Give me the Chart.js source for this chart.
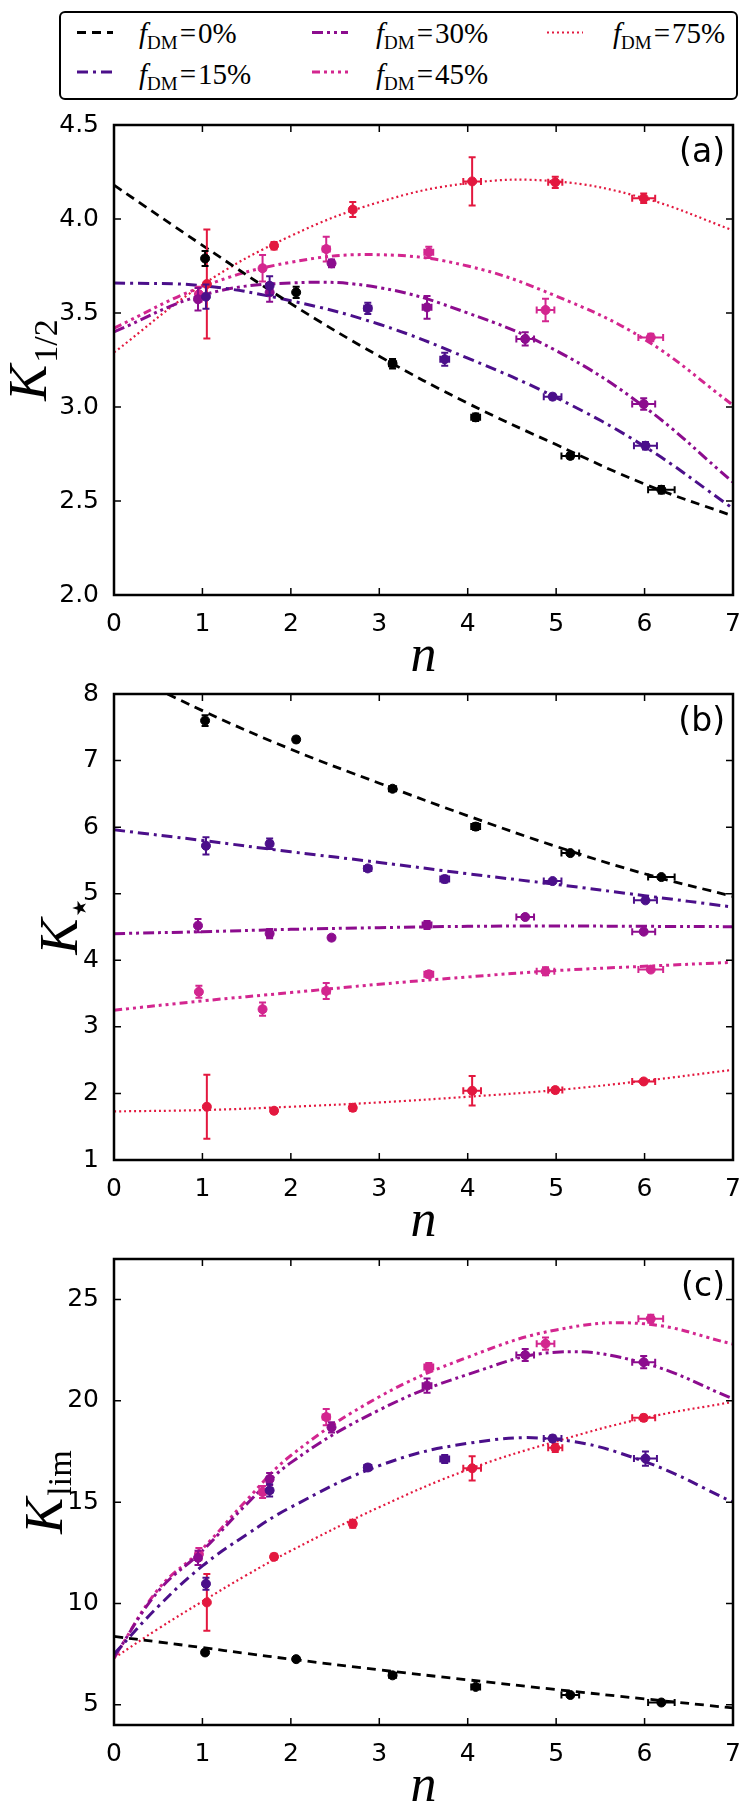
<!DOCTYPE html>
<html>
<head>
<meta charset="utf-8">
<script src="https://cdn.jsdelivr.net/npm/chart.js@4.4.1/dist/chart.umd.min.js"></script>
<style>
  body { margin: 0; background: #fff; }
  #page { position: relative; width: 750px; height: 1817px; overflow: hidden; }
  canvas { position: absolute; left: 0; }
  #legendBox { position: absolute; left: 59px; top: 11px; width: 675px; height: 85px;
    border: 2px solid #000; border-radius: 6px; }
  .lgText { position: absolute; font: 29px "Liberation Serif"; line-height: 29px; white-space: nowrap; color: #000; }
  .lgText sub { font-size: 19px; vertical-align: baseline; position: relative; top: 6px; }
  .lgText .eq { margin: 0 2px; }
</style>
</head>
<body>
<div id="page">
  <div id="legendBox"></div>
  <svg id="legendLines" width="750" height="110" style="position:absolute;left:0;top:0"></svg>
  <div id="legendText"></div>
  <canvas id="cA" width="750" height="572" style="top:100px"></canvas>
  <canvas id="cB" width="750" height="565" style="top:672px"></canvas>
  <canvas id="cC" width="750" height="580" style="top:1237px"></canvas>
</div>
<script>
/* series: dark matter fraction */
const seriesLabels = ['0%', '15%', '30%', '45%', '75%'];
const seriesColors = ['#000000', '#4b0f8a', '#8c0c8e', '#d3268f', '#e3183f'];
const seriesDashes = [[9, 6], [11, 5, 3, 5], [11, 4, 3, 4, 3, 4], [8, 4, 3, 4, 3, 4, 3, 4], [2, 3]];
const seriesWidths = [2.8, 3, 3, 3, 2.2];

// n of each run (same runs in all three panels) and its error
const n0  = [1.03, 2.06, 3.15, 4.09, 5.16, 6.19];
const n15 = [1.04, 1.76, 2.87, 3.74, 4.96, 6.01];
const n30 = [0.95, 1.76, 2.46, 3.54, 4.65, 5.99];
const n45 = [0.96, 1.68, 2.40, 3.56, 4.88, 6.07];
const n75 = [1.05, 1.81, 2.70, 4.05, 4.99, 5.99];
const nErr0  = [0.02, 0.02, 0.04, 0.05, 0.10, 0.15];
const nErr15 = [0.02, 0.03, 0.04, 0.05, 0.10, 0.13];
const nErr30 = [0.02, 0.03, 0.03, 0.05, 0.10, 0.13];
const nErr45 = [0.02, 0.03, 0.04, 0.05, 0.10, 0.14];
const nErr75 = [0.02, 0.03, 0.03, 0.10, 0.08, 0.13];

// panel (a) K_1/2
const kHalf0  = [3.79, 3.61, 3.23, 2.945, 2.74, 2.56];
const kHalf15 = [3.587, 3.645, 3.525, 3.254, 3.055, 2.794];
const kHalf30 = [3.573, 3.61, 3.764, 3.53, 3.362, 3.016];
const kHalf45 = [3.60, 3.738, 3.84, 3.823, 3.516, 3.37];
const kHalf75 = [3.654, 3.858, 4.05, 4.20, 4.195, 4.11];
const kHalfErr0  = [0.04, 0.03, 0.025, 0.02, 0.015, 0.02];
const kHalfErr15 = [0.065, 0.05, 0.03, 0.035, 0.015, 0.02];
const kHalfErr30 = [0.06, 0.05, 0.02, 0.06, 0.035, 0.03];
const kHalfErr45 = [0.04, 0.07, 0.066, 0.03, 0.06, 0.02];
const kHalfErr75 = [0.29, 0.02, 0.04, 0.128, 0.03, 0.025];

// panel (b) K_star
const kStar0  = [7.60, 7.317, 6.577, 6.008, 5.61, 5.25];
const kStar15 = [5.72, 5.75, 5.38, 5.22, 5.19, 4.90];
const kStar30 = [4.52, 4.40, 4.34, 4.53, 4.65, 4.43];
const kStar45 = [3.526, 3.265, 3.54, 3.79, 3.834, 3.86];
const kStar75 = [1.80, 1.74, 1.785, 2.04, 2.05, 2.18];
const kStarErr0  = [0.08, 0.04, 0.03, 0.05, 0.03, 0.03];
const kStarErr15 = [0.13, 0.08, 0.03, 0.05, 0.03, 0.03];
const kStarErr30 = [0.10, 0.07, 0.03, 0.06, 0.03, 0.03];
const kStarErr45 = [0.09, 0.10, 0.12, 0.05, 0.06, 0.03];
const kStarErr75 = [0.48, 0.03, 0.05, 0.22, 0.04, 0.03];

// panel (c) K_lim
const kLim0  = [7.58, 7.25, 6.45, 5.88, 5.48, 5.11];
const kLim15 = [10.97, 15.58, 16.71, 17.13, 18.14, 17.15];
const kLim30 = [12.25, 16.14, 18.69, 20.75, 22.26, 21.91];
const kLim45 = [12.43, 15.5, 19.2, 21.67, 22.82, 24.05];
const kLim75 = [10.05, 12.30, 13.93, 16.67, 17.68, 19.16];
const kLimErr0  = [0.10, 0.08, 0.08, 0.10, 0.07, 0.08];
const kLimErr15 = [0.30, 0.30, 0.15, 0.20, 0.15, 0.35];
const kLimErr30 = [0.35, 0.30, 0.25, 0.35, 0.30, 0.30];
const kLimErr45 = [0.30, 0.30, 0.40, 0.20, 0.30, 0.20];
const kLimErr75 = [1.40, 0.15, 0.20, 0.60, 0.20, 0.15];

// fitted curves
const fitN    = [0, 1, 2, 3, 4, 5, 6, 7];
const fitNLim = [0, 0.5, 1, 1.5, 2, 3, 4, 5, 6, 7];
const fitHalf0  = [4.18, 3.86, 3.55, 3.27, 3.02, 2.80, 2.59, 2.42];
const fitHalf15 = [3.66, 3.645, 3.565, 3.44, 3.26, 3.05, 2.79, 2.46];
const fitHalf30 = [3.40, 3.595, 3.66, 3.635, 3.50, 3.30, 3.00, 2.60];
const fitHalf45 = [3.42, 3.64, 3.77, 3.81, 3.75, 3.59, 3.36, 3.01];
const fitHalf75 = [3.29, 3.65, 3.91, 4.09, 4.19, 4.20, 4.11, 3.94];
const fitStar0  = [8.40, 7.75, 7.17, 6.66, 6.17, 5.71, 5.30, 4.96];
const fitStar15 = [5.96, 5.80, 5.63, 5.47, 5.30, 5.14, 4.97, 4.80];
const fitStar30 = [4.40, 4.43, 4.465, 4.49, 4.51, 4.515, 4.51, 4.505];
const fitStar45 = [3.25, 3.39, 3.515, 3.64, 3.75, 3.845, 3.91, 3.97];
const fitStar75 = [1.73, 1.75, 1.80, 1.865, 1.95, 2.05, 2.19, 2.355];
const fitLim0  = [8.37, 8.10, 7.82, 7.53, 7.25, 6.72, 6.23, 5.75, 5.29, 4.84];
const fitLim15 = [7.5, 9.85, 11.85, 13.4, 14.75, 16.8, 17.9, 18.1, 17.0, 15.0];
const fitLim30 = [7.35, 10.6, 12.6, 14.9, 16.95, 19.55, 21.3, 22.4, 21.85, 20.1];
const fitLim45 = [7.3, 10.7, 12.7, 15.1, 17.3, 20.2, 22.15, 23.5, 23.8, 22.8];
const fitLim75 = [7.3, 8.75, 10.1, 11.4, 12.6, 14.75, 16.6, 18.0, 19.15, 19.95];

// ticks
const xTicks  = [0, 1, 2, 3, 4, 5, 6, 7];
const yTicksA = [2.0, 2.5, 3.0, 3.5, 4.0, 4.5];
const yTicksB = [1, 2, 3, 4, 5, 6, 7, 8];
const yTicksC = [5, 10, 15, 20, 25];

const nPts = [n0, n15, n30, n45, n75];
const nErrs = [nErr0, nErr15, nErr30, nErr45, nErr75];

/* legend (html, so the subscript is real text) */
const lgLines = document.getElementById('legendLines');
const lgText = document.getElementById('legendText');
seriesLabels.forEach((lab, s) => {
  const col = Math.floor(s / 2), row = s % 2;
  const lx = [77, 312, 547][col], tx = [139, 376, 613][col];
  const ly = [32.5, 72][row], base = [43, 84][row];
  const ln = document.createElementNS('http://www.w3.org/2000/svg', 'line');
  ln.setAttribute('x1', lx); ln.setAttribute('x2', lx + 36);
  ln.setAttribute('y1', ly); ln.setAttribute('y2', ly);
  ln.setAttribute('stroke', seriesColors[s]);
  ln.setAttribute('stroke-width', s === 4 ? 2.2 : 3.2);
  ln.setAttribute('stroke-dasharray', seriesDashes[s].join(' '));
  lgLines.appendChild(ln);
  const t = document.createElement('div');
  t.className = 'lgText';
  t.style.left = tx + 'px';
  t.style.top = (base - 24) + 'px';
  t.innerHTML = '<i>f</i><sub>DM</sub><span class="eq">=</span>' + lab;
  lgText.appendChild(t);
});

/* error bars, frame, inward ticks and labels */
const panelDeco = {
  id: 'panelDeco',
  beforeDatasetDraw(chart, args) {
    const ds = chart.data.datasets[args.index];
    if (!ds.yErr) return;
    const {ctx, scales: {x, y}} = chart;
    const c = 3.5;
    ctx.save();
    ctx.strokeStyle = ds.backgroundColor;
    ctx.lineWidth = 2;
    ctx.beginPath();
    ds.data.forEach((p, i) => {
      const px = x.getPixelForValue(p.x), py = y.getPixelForValue(p.y);
      const xl = x.getPixelForValue(p.x - ds.xErr[i]), xr = x.getPixelForValue(p.x + ds.xErr[i]);
      const yt = y.getPixelForValue(p.y + ds.yErr[i]), yb = y.getPixelForValue(p.y - ds.yErr[i]);
      ctx.moveTo(xl, py); ctx.lineTo(xr, py);
      ctx.moveTo(xl, py - c); ctx.lineTo(xl, py + c);
      ctx.moveTo(xr, py - c); ctx.lineTo(xr, py + c);
      ctx.moveTo(px, yt); ctx.lineTo(px, yb);
      ctx.moveTo(px - c, yt); ctx.lineTo(px + c, yt);
      ctx.moveTo(px - c, yb); ctx.lineTo(px + c, yb);
    });
    ctx.stroke();
    ctx.restore();
  },
  afterDraw(chart, args, opts) {
    const {ctx, chartArea: a, scales: {x, y}} = chart;
    ctx.save();
    ctx.strokeStyle = '#000';
    ctx.lineWidth = 1.5;
    ctx.beginPath();
    x.ticks.forEach(t => {
      const p = x.getPixelForValue(t.value);
      ctx.moveTo(p, a.bottom); ctx.lineTo(p, a.bottom - 7);
      ctx.moveTo(p, a.top); ctx.lineTo(p, a.top + 7);
    });
    y.ticks.forEach(t => {
      const p = y.getPixelForValue(t.value);
      ctx.moveTo(a.left, p); ctx.lineTo(a.left + 7, p);
      ctx.moveTo(a.right, p); ctx.lineTo(a.right - 7, p);
    });
    ctx.stroke();
    ctx.lineWidth = 2.5;
    ctx.strokeRect(a.left, a.top, a.right - a.left, a.bottom - a.top);

    ctx.fillStyle = '#000';
    ctx.textBaseline = 'alphabetic';
    // panel tag
    ctx.font = '33px "DejaVu Sans"';
    ctx.textAlign = 'right';
    ctx.fillText(opts.tag, a.right - 8, a.top + 37);
    // x title
    ctx.font = 'italic 52px "Liberation Serif"';
    ctx.textAlign = 'center';
    ctx.fillText('n', (a.left + a.right) / 2, a.bottom + 76);
    // y title with subscript
    ctx.translate(opts.titleX, (a.top + a.bottom) / 2);
    ctx.rotate(-Math.PI / 2);
    ctx.textAlign = 'left';
    ctx.font = 'italic 54px "Liberation Serif"';
    const w1 = ctx.measureText('K').width;
    ctx.font = opts.subFont;
    const w2 = ctx.measureText(opts.sub).width;
    const x0 = -(w1 + w2 + 2) / 2;
    ctx.font = 'italic 54px "Liberation Serif"';
    ctx.fillText('K', x0, 0);
    ctx.font = opts.subFont;
    ctx.fillText(opts.sub, x0 + w1 + 2, opts.subShift);
    ctx.restore();
  }
};

function makeChart(id, vals, errs, fN, fits, yMin, yMax, yTicks, fmt, padTop, xHeight, deco) {
  const datasets = [];
  for (let s = 0; s < 5; s++) {
    datasets.push({
      data: nPts[s].map((x, i) => ({x: x, y: vals[s][i]})),
      xErr: nErrs[s], yErr: errs[s],
      backgroundColor: seriesColors[s], borderColor: seriesColors[s],
      pointRadius: 4.5, pointBorderWidth: 1, showLine: false, order: 0
    });
  }
  for (let s = 0; s < 5; s++) {
    datasets.push({
      data: fN.map((x, i) => ({x: x, y: fits[s][i]})),
      borderColor: seriesColors[s], borderWidth: seriesWidths[s],
      borderDash: seriesDashes[s], pointRadius: 0, showLine: true,
      tension: 0.4, fill: false, order: 1
    });
  }
  const tickFont = {family: '"DejaVu Sans"', size: 25};
  return new Chart(document.getElementById(id), {
    type: 'scatter',
    data: {datasets: datasets},
    options: {
      responsive: false, animation: false, devicePixelRatio: 1, events: [],
      layout: {padding: {top: padTop, right: 17, left: 0, bottom: 0}},
      plugins: {legend: {display: false}, tooltip: {enabled: false}, panelDeco: deco},
      scales: {
        x: {
          type: 'linear', min: 0, max: 7,
          grid: {display: false}, border: {display: false},
          afterBuildTicks: sc => { sc.ticks = xTicks.map(v => ({value: v})); },
          afterFit: sc => { sc.height = xHeight; },
          ticks: {color: '#000', font: tickFont, padding: 6, maxRotation: 0}
        },
        y: {
          type: 'linear', min: yMin, max: yMax,
          grid: {display: false}, border: {display: false},
          afterBuildTicks: sc => { sc.ticks = yTicks.map(v => ({value: v})); },
          afterFit: sc => { sc.width = 114; },
          ticks: {color: '#000', font: tickFont, padding: 7, callback: fmt}
        }
      }
    },
    plugins: [panelDeco]
  });
}

makeChart('cA',
  [kHalf0, kHalf15, kHalf30, kHalf45, kHalf75],
  [kHalfErr0, kHalfErr15, kHalfErr30, kHalfErr45, kHalfErr75],
  fitN, [fitHalf0, fitHalf15, fitHalf30, fitHalf45, fitHalf75],
  2, 4.5, yTicksA, v => v.toFixed(1), 25, 77,
  {tag: '(a)', sub: '1/2', subFont: '34px "Liberation Serif"', subShift: 11, titleX: 46});

makeChart('cB',
  [kStar0, kStar15, kStar30, kStar45, kStar75],
  [kStarErr0, kStarErr15, kStarErr30, kStarErr45, kStarErr75],
  fitN, [fitStar0, fitStar15, fitStar30, fitStar45, fitStar75],
  1, 8, yTicksB, v => String(v), 17, 77,
  {tag: '(b)', sub: '\u2605', subFont: '19px "DejaVu Sans"', subShift: 9, titleX: 77});

makeChart('cC',
  [kLim0, kLim15, kLim30, kLim45, kLim75],
  [kLimErr0, kLimErr15, kLimErr30, kLimErr45, kLimErr75],
  fitNLim, [fitLim0, fitLim15, fitLim30, fitLim45, fitLim75],
  4, 27, yTicksC, v => String(v), 18, 92,
  {tag: '(c)', sub: 'lim', subFont: '34px "Liberation Serif"', subShift: 9, titleX: 62});
</script>
</body>
</html>
